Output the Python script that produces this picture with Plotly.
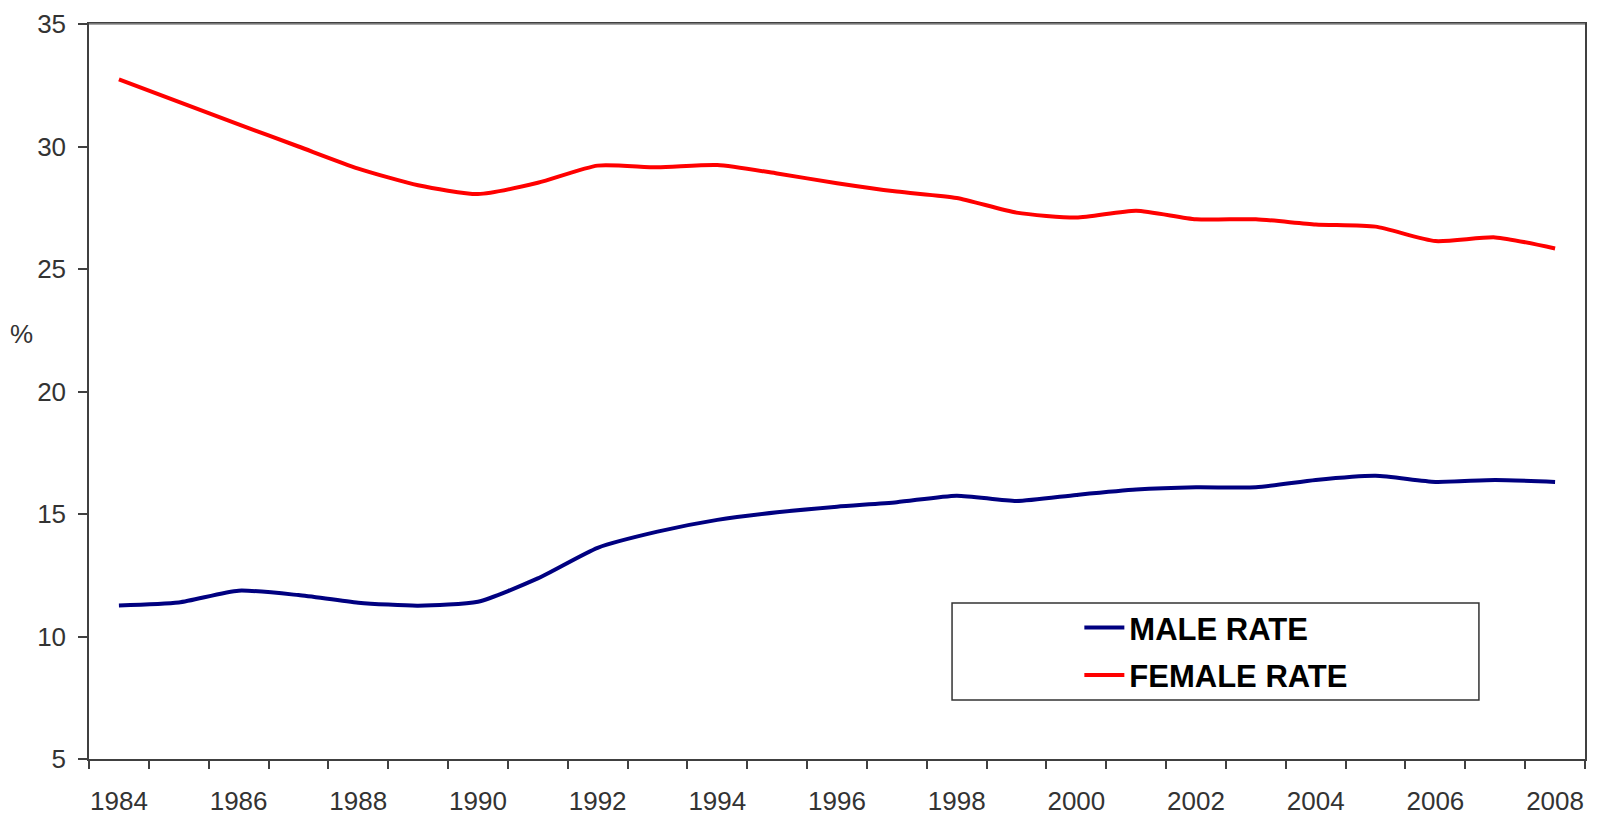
import plotly.graph_objects as go

# data
years = list(range(1984, 2009))
male_rate = [11.27, 11.39, 11.87, 11.69, 11.38, 11.26, 11.42, 12.37, 13.62, 14.28,
             14.76, 15.07, 15.30, 15.48, 15.75, 15.53, 15.78, 16.00, 16.09, 16.09,
             16.39, 16.56, 16.31, 16.39, 16.31]
female_rate = [32.74, 31.82, 30.90, 30.00, 29.10, 28.42, 28.06, 28.52, 29.22, 29.15,
               29.24, 28.90, 28.50, 28.16, 27.90, 27.30, 27.10, 27.38, 27.03, 27.03,
               26.82, 26.73, 26.14, 26.29, 25.84]
tick_years = list(range(1984, 2009, 2))

fig = go.Figure()

fig.add_trace(go.Scatter(
    x=years, y=male_rate, name="MALE RATE", mode="lines", legendgroup="m",
    line=dict(color="#000080", width=4, shape="spline", smoothing=0.6)
))
fig.add_trace(go.Scatter(
    x=years, y=female_rate, name="FEMALE RATE", mode="lines", legendgroup="f",
    line=dict(color="#FF0000", width=4, shape="spline", smoothing=0.6)
))

axis_font = dict(family="Liberation Sans, Arial", size=26, color="#333333")

fig.update_xaxes(
    range=[1983.5, 2008.5], automargin=False,
    tickmode="array", tickvals=tick_years, ticktext=[str(y) for y in tick_years],
    ticks="outside", ticklen=0, ticklabelstandoff=18,
    minor=dict(tick0=1983.5, dtick=1, ticks="outside", ticklen=8,
               tickcolor="#404040", tickwidth=1.5),
    showline=True, linecolor="#404040", linewidth=1.5, mirror=True,
    showgrid=False, zeroline=False, tickfont=axis_font,
)
fig.update_yaxes(
    range=[5, 35], tick0=5, dtick=5, automargin=False,
    ticks="outside", ticklen=9, tickcolor="#404040", tickwidth=1.5,
    ticklabelstandoff=7,
    showline=True, linecolor="#404040", linewidth=1.5, mirror=True,
    showgrid=False, zeroline=False, tickfont=axis_font,
)

# top edge of the plot frame is lighter in the reference
fig.add_shape(type="line", xref="paper", yref="paper", x0=0, x1=1, y0=1, y1=1,
              line=dict(color="#8a8a8a", width=1.5))

# legend frame drawn as a shape so it matches the reference box size
fig.add_shape(type="rect", xref="paper", yref="paper",
              x0=0.5769, x1=0.9291, y0=0.0803, y1=0.2122,
              line=dict(color="#333333", width=1.5), fillcolor="white", layer="below")

fig.add_annotation(text="%", xref="paper", yref="paper", x=-0.036, y=0.578,
                   showarrow=False, font=axis_font, xanchor="right")

fig.update_layout(
    width=1597, height=820,
    margin=dict(l=89, r=12, t=24, b=61),
    paper_bgcolor="white", plot_bgcolor="white",
    legend=dict(x=0.662, y=0.1463, xanchor="left", yanchor="middle",
                bgcolor="rgba(0,0,0,0)", borderwidth=0, tracegroupgap=4,
                font=dict(family="Liberation Sans, Arial", size=31, color="black",
                          weight="bold"),
                itemwidth=40),
    font=dict(family="Liberation Sans, Arial"),
)

# drop the default body margin so the figure sits at the page corner
fig.write_html("out.html", config={"displayModeBar": False},
               post_script="document.body.style.margin='0';")
